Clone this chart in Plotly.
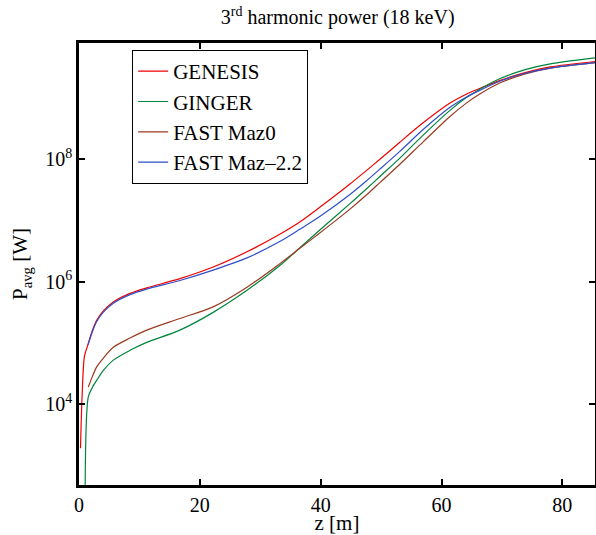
import plotly.graph_objects as go

# z positions [m] and log10 of average power [W]
z_genesis = [0.25, 0.5, 0.9, 1.5, 2.2, 2.93, 4, 5.68, 8.44, 11.2, 16.7, 22.2, 27.8, 33.3, 36.6, 39.9,
             44.9, 47.6, 49.8, 53.1, 57, 61.4, 64, 66.4, 69.7, 74, 78, 85.6]
p_genesis = [3.28, 4.1, 4.78, 4.98, 5.2, 5.37, 5.52, 5.67, 5.81, 5.90, 6.05, 6.24, 6.49, 6.78, 6.98, 7.22,
             7.60, 7.82, 8.0, 8.28, 8.60, 8.92, 9.06, 9.16, 9.29, 9.42, 9.51, 9.60]

z_ginger = [1.0, 1.54, 2.2, 2.93, 4, 5.68, 8.44, 11.2, 16.7, 22.2, 27.8, 33.3, 36.6, 39.9,
            44.9, 47.6, 49.8, 53.1, 57, 61.4, 64, 66.4, 69.7, 74, 78, 85.6]
p_ginger = [2.3, 4.12, 4.27, 4.39, 4.55, 4.72, 4.88, 5.01, 5.21, 5.50, 5.86, 6.27, 6.56, 6.85,
            7.28, 7.52, 7.72, 8.02, 8.40, 8.80, 9.00, 9.15, 9.32, 9.47, 9.56, 9.66]

z_maz0 = [1.54, 2.2, 2.93, 4, 5.68, 8.44, 11.2, 16.7, 22.2, 27.8, 33.3, 36.6, 39.9,
          44.9, 47.6, 49.8, 53.1, 57, 61.4, 64, 66.4, 69.7, 74, 78, 85.6]
p_maz0 = [4.28, 4.45, 4.61, 4.75, 4.93, 5.08, 5.21, 5.40, 5.59, 5.91, 6.30, 6.55, 6.80,
          7.19, 7.42, 7.62, 7.92, 8.29, 8.70, 8.91, 9.07, 9.25, 9.40, 9.49, 9.58]

z_maz22 = [1.5, 2.2, 2.93, 4, 5.68, 8.44, 11.2, 16.7, 22.2, 27.8, 33.3, 36.6, 39.9,
           44.9, 47.6, 49.8, 53.1, 57, 61.4, 64, 66.4, 69.7, 74, 78, 85.6]
p_maz22 = [4.97, 5.18, 5.35, 5.50, 5.65, 5.79, 5.88, 6.02, 6.19, 6.39, 6.66, 6.86, 7.07,
           7.43, 7.65, 7.84, 8.13, 8.49, 8.85, 9.01, 9.13, 9.28, 9.41, 9.49, 9.58]

series_names = ["GENESIS", "GINGER", "FAST Maz0", "FAST Maz–2.2"]
series_colors = ["#f00000", "#00843c", "#9a3a1e", "#2f4fc8"]

y_tickvals = [1e4, 1e6, 1e8]
y_ticktext = ["10<sup>4</sup>", "10<sup>6</sup>", "10<sup>8</sup>"]
x_tickvals = [0, 20, 40, 60, 80]

FONT = "Liberation Serif, Times New Roman, serif"

fig = go.Figure()
for i, (zz, pp) in enumerate([(z_genesis, p_genesis), (z_ginger, p_ginger),
                               (z_maz0, p_maz0), (z_maz22, p_maz22)]):
    fig.add_trace(go.Scatter(
        x=zz, y=[10 ** v for v in pp], mode="lines",
        name=series_names[i], legendgroup=series_names[i],
        line=dict(color=series_colors[i], width=1.2, shape="spline", smoothing=0.8),
    ))

fig.update_layout(
    width=596, height=535,
    margin=dict(l=79, r=1, t=43, b=50),
    paper_bgcolor="white", plot_bgcolor="white",
    font=dict(family=FONT, size=20, color="black"),
    title=dict(text="3<sup>rd</sup> harmonic power (18 keV)", x=0.5665, xanchor="center",
               y=(535 - 17) / 535, yanchor="middle", yref="container",
               font=dict(family=FONT, size=20, color="black")),
    showlegend=True,
    legend=dict(x=0.103, y=0.984, xanchor="left", yanchor="top",
                bordercolor="black", borderwidth=1, bgcolor="white",
                font=dict(family=FONT, size=21, color="black"),
                traceorder="grouped", tracegroupgap=0),
)
fig.update_xaxes(range=[0, 85.4], tickvals=x_tickvals, ticks="inside", ticklen=6,
                 tickwidth=1.5, tickcolor="black", showline=True, linecolor="black",
                 linewidth=2.5, mirror="ticks", showgrid=False, zeroline=False,
                 automargin=False, tickfont=dict(family=FONT, size=20),
                 title=dict(text="z [m]", standoff=4, font=dict(family=FONT, size=21)))
fig.update_yaxes(type="log", range=[2.68, 9.9], tickvals=y_tickvals, ticktext=y_ticktext,
                 ticks="inside", ticklen=6, tickwidth=1.5, tickcolor="black",
                 showline=True, linecolor="black", linewidth=2.5, mirror="ticks",
                 showgrid=False, zeroline=False, automargin=False,
                 tickfont=dict(family=FONT, size=20),
                 title=dict(text="P<sub>avg</sub> [W]", standoff=12, font=dict(family=FONT, size=21)))

fig.write_html("out.html", config={"displayModeBar": False},
               post_script="document.body.style.margin='0';")
